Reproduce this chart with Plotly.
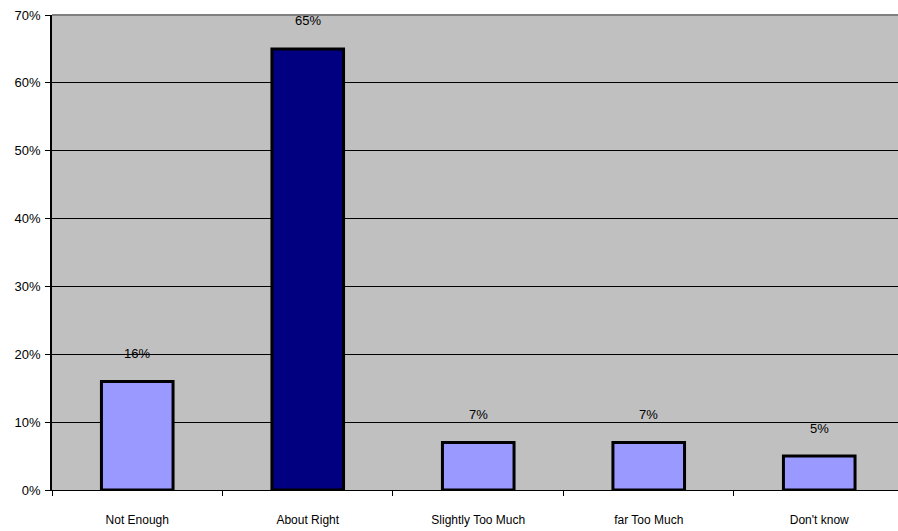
import plotly.graph_objects as go

categories = ["Not Enough", "About Right", "Slightly Too Much", "far Too Much", "Don't know"]
values = [0.16, 0.65, 0.07, 0.07, 0.05]
labels = ["16%", "65%", "7%", "7%", "5%"]
colors = ["#9999FF", "#000080", "#9999FF", "#9999FF", "#9999FF"]
yticks = [0, 0.1, 0.2, 0.3, 0.4, 0.5, 0.6, 0.7]
yticklabels = ["0%", "10%", "20%", "30%", "40%", "50%", "60%", "70%"]

font = "Liberation Sans, Arial, sans-serif"

fig = go.Figure()
fig.add_trace(go.Bar(
    x=categories, y=values, width=0.42,
    marker=dict(color=colors, line=dict(color="black", width=3)),
    hoverinfo="skip",
))

for c, v, t in zip(categories, values, labels):
    fig.add_annotation(x=c, y=v, text=t, showarrow=False, yshift=28,
                       font=dict(family=font, size=13, color="black"))

fig.add_shape(type="line", xref="paper", yref="paper", x0=0, x1=1, y0=1, y1=1,
              line=dict(color="#808080", width=2))

fig.update_layout(
    width=898, height=531,
    margin=dict(l=52, r=0, t=15, b=41),
    paper_bgcolor="white", plot_bgcolor="#C0C0C0",
    showlegend=False,
    font=dict(family=font, size=13, color="black"),
    xaxis=dict(
        range=[-0.5, 4.462], tickson="boundaries", ticks="outside", ticklen=5,
        tickcolor="black", showline=True, linecolor="black", linewidth=1,
        showgrid=False, ticklabelstandoff=19,
        tickfont=dict(family=font, size=12, color="black"),
    ),
    yaxis=dict(
        range=[0, 0.7], tickvals=yticks, ticktext=yticklabels,
        ticks="outside", ticklen=5, tickcolor="black",
        showline=True, linecolor="black", linewidth=1.5,
        showgrid=True, gridcolor="black", gridwidth=1,
        zeroline=False, ticklabelstandoff=2,
        tickfont=dict(family=font, size=13, color="black"),
    ),
)

fig.write_html("out.html", config={"displayModeBar": False},
               post_script="document.body.style.margin='0px';")
